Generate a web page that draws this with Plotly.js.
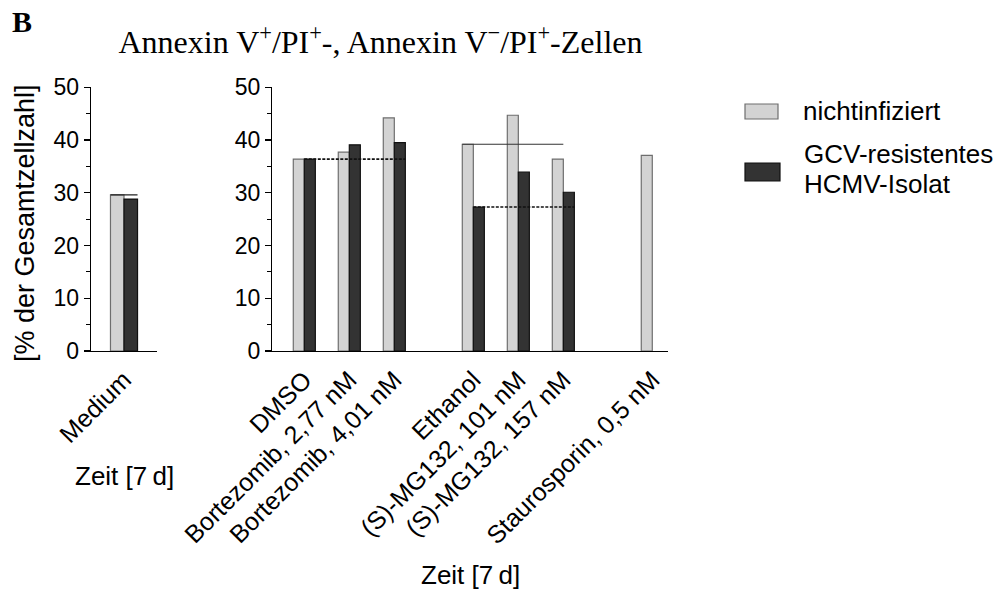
<!DOCTYPE html>
<html>
<head>
<meta charset="utf-8">
<script src="https://cdn.plot.ly/plotly-3.0.1.min.js"></script>
<style>html,body{margin:0;padding:0;background:#fff;}#chart{width:1006px;height:591px;}</style>
</head>
<body>
<div id="chart"></div>
<script>
// ---- data ----
const leftCategories = ["Medium"];
const leftUninfected = [29.6];
const leftInfected = [28.8];

const rightCategories = ["DMSO", "Bortezomib, 2,77 nM", "Bortezomib, 4,01 nM",
  "Ethanol", "(S)-MG132, 101 nM", "(S)-MG132, 157 nM", "Staurosporin, 0,5 nM"];
const rightGroup = [0, 0, 0, 1, 1, 1, 2];
const rightUninfected = [36.4, 37.7, 44.2, 39.2, 44.7, 36.4, 37.1];
const rightInfected = [36.4, 39.1, 39.5, 27.3, 33.9, 30.1, null];

const seriesNames = ["nichtinfiziert", "GCV-resistentes HCMV-Isolat"];
const yTicks = [0, 10, 20, 30, 40, 50];

// ---- layout helpers ----
const W = 1006, H = 591;
const px = v => v / W;
const py = v => 1 - v / H;
const groupStart = [0, 3.756, 7.733];   // slot offsets of the three groups
const rightPos = rightCategories.map((c, i) => {
  const g = rightGroup[i];
  const firstInGroup = rightGroup.indexOf(g);
  return groupStart[g] + (i - firstInGroup);
});
const wR = 0.245;   // bar width right panel (axis units)
const wL = 0.41;    // bar width left panel

const lightColor = "#d3d3d3", darkColor = "#333333";
const font = "Liberation Sans, Arial, sans-serif";

const traces = [
  { type: "bar", x: [0], y: leftUninfected, xaxis: "x", yaxis: "y",
    width: wL, offset: -wL, marker: { color: lightColor, line: { color: "#6e6e6e", width: 1.2 } },
    name: seriesNames[0], showlegend: false, hoverinfo: "y" },
  { type: "bar", x: [0], y: leftInfected, xaxis: "x", yaxis: "y",
    width: wL, offset: 0, marker: { color: darkColor, line: { color: "#111", width: 1.2 } },
    name: seriesNames[1], showlegend: false, hoverinfo: "y" },
  { type: "bar", x: rightPos, y: rightUninfected, xaxis: "x2", yaxis: "y2",
    width: wR, offset: -wR, marker: { color: lightColor, line: { color: "#6e6e6e", width: 1.2 } },
    name: seriesNames[0], showlegend: false, hoverinfo: "y" },
  { type: "bar", x: rightPos, y: rightInfected, xaxis: "x2", yaxis: "y2",
    width: wR, offset: 0, marker: { color: darkColor, line: { color: "#111", width: 1.2 } },
    name: seriesNames[1], showlegend: false, hoverinfo: "y" },
  // reference lines at control values
  { type: "scatter", mode: "lines", xaxis: "x", yaxis: "y",
    x: [-wL, wL], y: [leftUninfected[0], leftUninfected[0]],
    line: { color: "#222", width: 1.2 }, showlegend: false, hoverinfo: "skip" },
  { type: "scatter", mode: "lines", xaxis: "x2", yaxis: "y2",
    x: [rightPos[0], rightPos[2] + wR], y: [rightInfected[0], rightInfected[0]],
    line: { color: "#111", width: 1.7, dash: "3px,1.5px" }, showlegend: false, hoverinfo: "skip" },
  { type: "scatter", mode: "lines", xaxis: "x2", yaxis: "y2",
    x: [rightPos[3] - wR, rightPos[5]], y: [rightUninfected[3], rightUninfected[3]],
    line: { color: "#333", width: 1.2 }, showlegend: false, hoverinfo: "skip" },
  { type: "scatter", mode: "lines", xaxis: "x2", yaxis: "y2",
    x: [rightPos[3], rightPos[5] + wR], y: [rightInfected[3], rightInfected[3]],
    line: { color: "#111", width: 1.7, dash: "3px,1.5px" }, showlegend: false, hoverinfo: "skip" }
];

const yAxisBase = {
  range: [0, 50], tickvals: yTicks, ticktext: yTicks.map(String),
  ticks: "outside", ticklen: 6, tickwidth: 1.2, tickcolor: "#000",
  minor: { dtick: 5, ticks: "outside", ticklen: 4, tickwidth: 1, tickcolor: "#000" },
  showline: true, linecolor: "#000", linewidth: 1.3, showgrid: false, zeroline: false,
  tickfont: { family: font, size: 23, color: "#000" }, fixedrange: true
};
const xAxisBase = {
  showline: true, linecolor: "#000", linewidth: 1.3, showgrid: false, zeroline: false,
  ticks: "", tickangle: -45, ticklabelstandoff: 3,
  tickfont: { family: font, size: 25, color: "#000" }, fixedrange: true
};

const layout = {
  width: W, height: H,
  margin: { l: 0, r: 0, t: 0, b: 0 },
  paper_bgcolor: "#fff", plot_bgcolor: "rgba(0,0,0,0)",
  showlegend: false,
  title: {
    text: "Annexin V<sup>+</sup>/PI<sup>+</sup>-, Annexin V<sup>\u2212</sup>/PI<sup>+</sup>-Zellen",
    x: px(380.5), xanchor: "center", y: py(42), yanchor: "middle",
    font: { family: "Liberation Serif, Times New Roman, serif", size: 32, color: "#000" }
  },
  xaxis: Object.assign({}, xAxisBase, {
    domain: [px(91), px(157)], range: [-1, 1], anchor: "y",
    tickvals: [0], ticktext: leftCategories
  }),
  yaxis: Object.assign({}, yAxisBase, { domain: [py(351), py(87.3)], anchor: "x" }),
  xaxis2: Object.assign({}, xAxisBase, {
    domain: [px(272.3), px(668)], range: [(272.3 - 304.3) / 45, (668 - 304.3) / 45], anchor: "y2",
    tickvals: rightPos, ticktext: rightCategories
  }),
  yaxis2: Object.assign({}, yAxisBase, { domain: [py(351), py(87.3)], anchor: "x2" }),
  shapes: [
    { type: "rect", xref: "paper", yref: "paper", x0: px(745), x1: px(778), y0: py(119), y1: py(104),
      fillcolor: lightColor, line: { color: "#6e6e6e", width: 1.2 } },
    { type: "rect", xref: "paper", yref: "paper", x0: px(745), x1: px(780), y0: py(181), y1: py(163),
      fillcolor: darkColor, line: { color: "#111", width: 1.2 } }
  ],
  annotations: [
    { text: "<b>B</b>", xref: "paper", yref: "paper", x: px(10), y: py(22), xanchor: "left", yanchor: "middle",
      showarrow: false, font: { family: "Liberation Serif, Times New Roman, serif", size: 30, color: "#000" } },
    { text: "[% der Gesamtzellzahl]", xref: "paper", yref: "paper", x: px(25), y: py(223),
      xanchor: "center", yanchor: "middle", textangle: -90, showarrow: false,
      font: { family: font, size: 27, color: "#000" } },
    { text: "Zeit [7\u2009d]", xref: "paper", yref: "paper", x: px(124), y: py(476),
      xanchor: "center", yanchor: "middle", showarrow: false, font: { family: font, size: 26, color: "#000" } },
    { text: "Zeit [7\u2009d]", xref: "paper", yref: "paper", x: px(470), y: py(575),
      xanchor: "center", yanchor: "middle", showarrow: false, font: { family: font, size: 26, color: "#000" } },
    { text: seriesNames[0], xref: "paper", yref: "paper", x: px(801), y: py(111),
      xanchor: "left", yanchor: "middle", showarrow: false, font: { family: font, size: 26, color: "#000" } },
    { text: "GCV-resistentes", xref: "paper", yref: "paper", x: px(802), y: py(154),
      xanchor: "left", yanchor: "middle", showarrow: false, font: { family: font, size: 26, color: "#000" } },
    { text: "HCMV-Isolat", xref: "paper", yref: "paper", x: px(802), y: py(184),
      xanchor: "left", yanchor: "middle", showarrow: false, font: { family: font, size: 26, color: "#000" } }
  ]
};

Plotly.newPlot("chart", traces, layout, { displayModeBar: false, staticPlot: true });
</script>
</body>
</html>
